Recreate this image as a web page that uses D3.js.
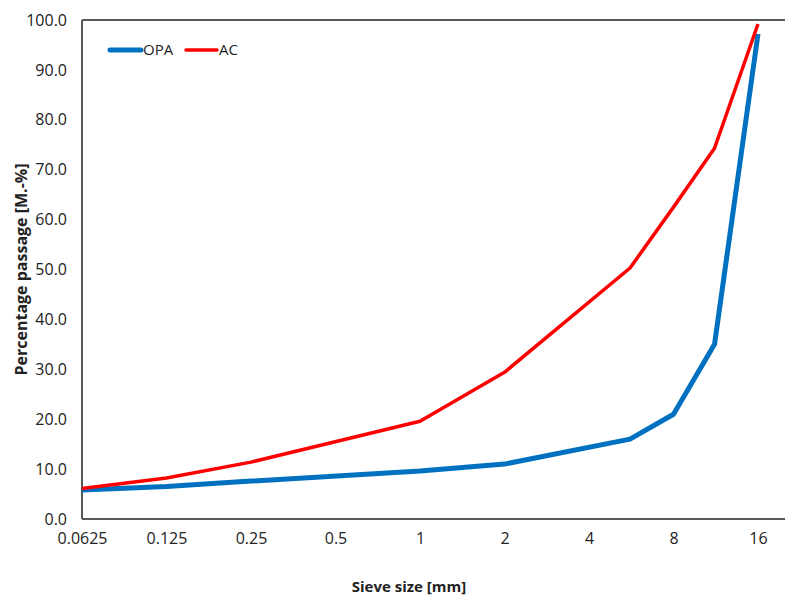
<!DOCTYPE html>
<html>
<head>
<meta charset="utf-8">
<script src="https://cdn.jsdelivr.net/npm/d3@7"></script>
<style>
	body { margin: 0; background: #fff; }
	text { font-family: "Open Sans", "Liberation Sans", sans-serif; fill: #222; }
</style>
</head>
<body>
<div id="chart"></div>
<script>
// Data
//---------------------------------------------------------------------------
var sieveSizes = [0.0625, 0.125, 0.25, 1, 2, 5.6, 8, 11.2, 16];
var opaValues = [5.8, 6.5, 7.6, 9.6, 11.0, 16.0, 21.0, 35.0, 97.2];
var acValues = [6.1, 8.2, 11.4, 19.6, 29.4, 50.3, 62.5, 74.3, 99.2];
var xTicks = [0.0625, 0.125, 0.25, 0.5, 1, 2, 4, 8, 16];
var yTicks = [0, 10, 20, 30, 40, 50, 60, 70, 80, 90, 100];
var seriesNames = ["OPA", "AC"];
var seriesColors = ["#0070C0", "#FF0000"];

var width = 785, height = 597;
var margin = {left: 82, top: 20, bottom: 78};

var svg = d3.select("#chart").append("svg")
	.attr("width", width)
	.attr("height", height);

// log2 x scale, 16 sits a bit inside the right edge
var x = d3.scaleLog().base(2)
	.domain([0.0625, 16])
	.range([margin.left, 758]);
var y = d3.scaleLinear()
	.domain([0, 100])
	.range([height - margin.bottom, margin.top]);

// frame lines (left, bottom, top)
var frame = svg.append("g")
	.attr("stroke", "#595959")
	.attr("stroke-width", 2);
frame.append("line")
	.attr("x1", margin.left).attr("x2", margin.left)
	.attr("y1", y(0)).attr("y2", y(100));
frame.append("line")
	.attr("x1", margin.left).attr("x2", width)
	.attr("y1", y(0)).attr("y2", y(0));
frame.append("line")
	.attr("x1", margin.left).attr("x2", width)
	.attr("y1", y(100)).attr("y2", y(100));

// y axis labels
var yAxis = svg.append("g")
	.attr("transform", "translate(" + margin.left + ",0)")
	.call(d3.axisLeft(y).tickValues(yTicks).tickSize(0).tickPadding(15)
		.tickFormat(d3.format(".1f")));
yAxis.select(".domain").remove();
yAxis.selectAll("text").attr("font-size", 16).attr("fill", "#222");

// x axis labels
var xAxis = svg.append("g")
	.attr("transform", "translate(0," + y(0) + ")")
	.call(d3.axisBottom(x).tickValues(xTicks).tickSize(0).tickPadding(14)
		.tickFormat(function(d) { return String(d); }));
xAxis.select(".domain").remove();
xAxis.selectAll("text").attr("font-size", 16).attr("fill", "#222");

// axis titles
svg.append("text")
	.attr("transform", "translate(27," + y(50) + ") rotate(-90)")
	.attr("text-anchor", "middle")
	.attr("font-size", 16)
	.attr("font-weight", "bold")
	.text("Percentage passage [M.-%]");
svg.append("text")
	.attr("x", 409)
	.attr("y", 592)
	.attr("text-anchor", "middle")
	.attr("font-size", 15)
	.attr("font-weight", "bold")
	.text("Sieve size [mm]");

// lines
var line = d3.line()
	.x(function(d) { return x(d[0]); })
	.y(function(d) { return y(d[1]); });

var series = [opaValues, acValues];
var widths = [5, 3.5];
for (i = 0; i < series.length; i++) {
	var pts = sieveSizes.map(function(s, j) { return [s, series[i][j]]; });
	svg.append("path")
		.datum(pts)
		.attr("d", line)
		.attr("fill", "none")
		.attr("stroke", seriesColors[i])
		.attr("stroke-width", widths[i])
		.attr("stroke-linejoin", "round");
}

// legend
var legend = svg.append("g").attr("transform", "translate(110,50)");
var legendX = [0, 76];
for (i = 0; i < seriesNames.length; i++) {
	var g = legend.append("g").attr("transform", "translate(" + legendX[i] + ",0)");
	g.append("line")
		.attr("x1", 0).attr("x2", 31)
		.attr("y1", 0).attr("y2", 0)
		.attr("stroke", seriesColors[i])
		.attr("stroke-width", widths[i])
		.attr("stroke-linecap", "round");
	g.append("text")
		.attr("x", 33)
		.attr("y", 0)
		.attr("dy", "0.35em")
		.attr("font-size", 15)
		.text(seriesNames[i]);
}
</script>
</body>
</html>
